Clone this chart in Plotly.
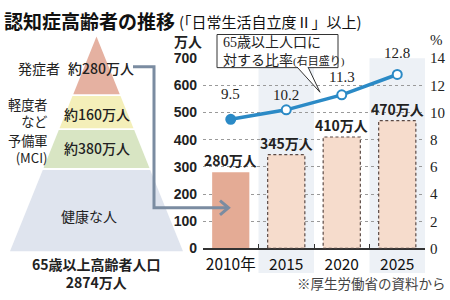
import plotly.graph_objects as go

# ---------------- data ----------------
years = ['2010年', '2015', '2020', '2025']
patients = [280, 345, 410, 470]                 # 万人
patient_labels = ['280万人', '345万人', '410万人', '470万人']
ratio = [9.5, 10.2, 11.3, 12.8]                # %
ratio_labels = ['9.5', '10.2', '11.3', '12.8']
left_ticks = [0, 100, 200, 300, 400, 500, 600, 700]
right_ticks = [0, 2, 4, 6, 8, 10, 12, 14]

pyr_names = ['発症者', '軽度者<br>など', '予備軍<br>(MCI)', '健康な人']
pyr_values = ['約280万人', '約160万人', '約380万人', '']
pyr_total = ['65歳以上高齢者人口', '2874万人']

title_main = '認知症高齢者の推移'
title_sub = '(「日常生活自立度Ⅱ」以上)'
callout_lines = ['65歳以上人口に', '対する比率', '(右目盛り)']
source_note = '※厚生労働省の資料から'

# ---------------- style ----------------
W, H = 450, 300
JP = 'Noto Sans CJK JP'
SERIF = 'Liberation Serif, Noto Sans CJK JP'
BLUE = '#2b8ac6'
CONN = '#7b8ca1'

def px(x):
    return x / W

def py(y):
    return 1 - y / H

shapes = []
annotations = []

# pyramid geometry (pixels)
apex_x, apex_y, base_y, half_base = 96.5, 30, 257, 86.5
layer_bounds = [(30, 91), (93, 127), (129, 169), (171, 257)]
layer_colors = ['#e5b1a1', '#f4efb9', '#d8e5c3', '#dfe4ee']

def hw(y):
    return half_base * (y - apex_y) / (base_y - apex_y)

for (t, b), c in zip(layer_bounds, layer_colors):
    pts = [(apex_x - hw(t), t), (apex_x + hw(t), t), (apex_x + hw(b), b), (apex_x - hw(b), b)]
    path = 'M ' + ' L '.join(f'{px(x):.5f},{py(y):.5f}' for x, y in pts) + ' Z'
    shapes.append(dict(type='path', path=path, xref='paper', yref='paper',
                       fillcolor=c, line=dict(width=0), layer='below'))

# pyramid texts
name_pos = [(62, 63, 'right', 14), (50, 110.5, 'right', 13.2), (50, 148.5, 'right', 13.2), (89, 220, 'center', 14)]
for (x, y, anc, sz), name in zip(name_pos, pyr_names):
    annotations.append(dict(x=px(x), y=py(y), xref='paper', yref='paper', text=name,
                            xanchor=anc, yanchor='middle', showarrow=False, align='right',
                            font=dict(family=JP, size=sz, color='#222')))
value_pos = [(101, 63), (97, 112), (97, 148), (97, 0)]
for (x, y), v in zip(value_pos, pyr_values):
    if v:
        annotations.append(dict(x=px(x), y=py(y), xref='paper', yref='paper', text=v,
                                xanchor='center', yanchor='middle', showarrow=False,
                                font=dict(family=JP, size=14, color='#222', weight=500)))
annotations.append(dict(x=px(96), y=py(279.5), xref='paper', yref='paper',
                        text='<br>'.join(pyr_total), xanchor='center', yanchor='middle',
                        showarrow=False, font=dict(family=JP, size=14, color='#222', weight='bold')))

# connector arrow
shapes.append(dict(type='path', xref='paper', yref='paper',
                   path=f'M {px(133)},{py(62)} L {px(154)},{py(62)} L {px(154)},{py(211)} L {px(228)},{py(211)}',
                   line=dict(color=CONN, width=3), layer='above'))
shapes.append(dict(type='path', xref='paper', yref='paper',
                   path=f'M {px(220)},{py(203.5)} L {px(228.5)},{py(211)} L {px(220)},{py(218.5)}',
                   line=dict(color=CONN, width=3), layer='above'))

# background bands for 2015 / 2025
for i in (1, 3):
    shapes.append(dict(type='rect', xref='x', yref='paper', x0=i - 0.5, x1=i + 0.5,
                       y0=py(280), y1=py(53), fillcolor='#edf1f6', line=dict(width=0), layer='below'))

# dashed outlines for projected bars
BW = 0.67
for i, v in enumerate(patients):
    if i > 0:
        shapes.append(dict(type='rect', xref='x', yref='y', x0=i - BW / 2, x1=i + BW / 2,
                           y0=0, y1=v, line=dict(color='#5a4944', width=1.2, dash='3px,2.5px'),
                           fillcolor='rgba(0,0,0,0)', layer='above'))

# bar labels (category index positions)
for i, (v, lab) in enumerate(zip(patients, patient_labels)):
    annotations.append(dict(x=i, y=v, xref='x', yref='y', text=lab, showarrow=False,
                            yanchor='bottom', yshift=0,
                            font=dict(family=JP, size=14, color='#222', weight='bold')))

# ratio labels
ratio_shift = [25, 15, 18, 21]
for i, (r, lab, s) in enumerate(zip(ratio, ratio_labels, ratio_shift)):
    annotations.append(dict(x=i, y=r, xref='x', yref='y2', text=lab, showarrow=False,
                            yanchor='middle', yshift=s,
                            font=dict(family='Liberation Serif', size=15, color='#222')))

# callout box
shapes.append(dict(type='rect', xref='paper', yref='paper', x0=px(217), x1=px(338),
                   y0=py(63), y1=py(28), fillcolor='white', line=dict(color='#333', width=1), layer='above'))
shapes.append(dict(type='path', xref='paper', yref='paper',
                   path=f'M {px(297)},{py(62.3)} L {px(320)},{py(89)} L {px(308)},{py(62.3)}',
                   fillcolor='white', line=dict(color='#333', width=1), layer='above'))
annotations.append(dict(x=px(221), y=py(46), xref='paper', yref='paper',
                        text=callout_lines[0] + '<br>' + callout_lines[1] +
                        "<span style='font-size:11px'>" + callout_lines[2] + '</span>',
                        xanchor='left', yanchor='middle', align='left', showarrow=False,
                        font=dict(family=SERIF, size=14, color='#222')))

# titles & axis units
annotations.append(dict(x=px(2), y=py(13), xref='paper', yref='paper', text=title_main,
                        xanchor='left', yanchor='middle', showarrow=False,
                        font=dict(family=JP, size=19, color='#111', weight='bold')))
annotations.append(dict(x=px(177), y=py(14), xref='paper', yref='paper', text=title_sub,
                        xanchor='left', yanchor='middle', showarrow=False,
                        font=dict(family=JP, size=15, color='#111')))
annotations.append(dict(x=px(188), y=py(35), xref='paper', yref='paper', text='万人',
                        xanchor='center', yanchor='middle', showarrow=False,
                        font=dict(family=JP, size=14, color='#222', weight='bold')))
annotations.append(dict(x=px(436), y=py(34), xref='paper', yref='paper', text='%',
                        xanchor='center', yanchor='middle', showarrow=False,
                        font=dict(family='Liberation Serif', size=15, color='#222')))
annotations.append(dict(x=px(448), y=py(291), xref='paper', yref='paper', text=source_note,
                        xanchor='right', yanchor='middle', showarrow=False,
                        font=dict(family=JP, size=13.5, color='#444')))

# ---------------- traces ----------------
fig = go.Figure()
fig.add_trace(go.Bar(x=years, y=patients, width=BW,
                     marker=dict(color=['#e4ab95', '#f6dccc', '#f6dccc', '#f6dccc'], line=dict(width=0)),
                     hoverinfo='skip'))
fig.add_trace(go.Scatter(x=years, y=ratio, yaxis='y2', mode='lines+markers',
                         line=dict(color=BLUE, width=3.5),
                         marker=dict(size=9, color=[BLUE, 'white', 'white', 'white'],
                                     line=dict(color=BLUE, width=2)),
                         hoverinfo='skip'))

fig.update_layout(
    width=W, height=H, margin=dict(l=0, r=0, t=0, b=0),
    paper_bgcolor='white', plot_bgcolor='rgba(0,0,0,0)', showlegend=False,
    xaxis=dict(domain=[px(203), px(425)], type='category', range=[-0.5, 3.5],
               showline=True, linecolor='#333', linewidth=1.5, tickangle=0,
               ticks='inside', tickson='boundaries', ticklen=5, tickcolor='#333', tickwidth=1.2,
               showgrid=False, zeroline=False, ticklabelstandoff=1,
               tickfont=dict(family=JP, size=15.5, color='#111')),
    yaxis=dict(domain=[py(254), py(53)], range=[0, 700], tickvals=left_ticks,
               showgrid=True, gridcolor='#9a9a9a', griddash='dot', gridwidth=1,
               zeroline=False, showline=False, ticks='', ticklabelstandoff=5,
               tickfont=dict(family='Liberation Sans', size=14, color='#222', weight='bold')),
    yaxis2=dict(overlaying='y', side='right', anchor='x', range=[0, 14], tickvals=right_ticks,
                showgrid=False, zeroline=False, showline=False, ticks='', ticklabelstandoff=4,
                tickfont=dict(family='Liberation Serif', size=15, color='#222')),
    shapes=shapes, annotations=annotations,
)

fig.write_html('out.html')
